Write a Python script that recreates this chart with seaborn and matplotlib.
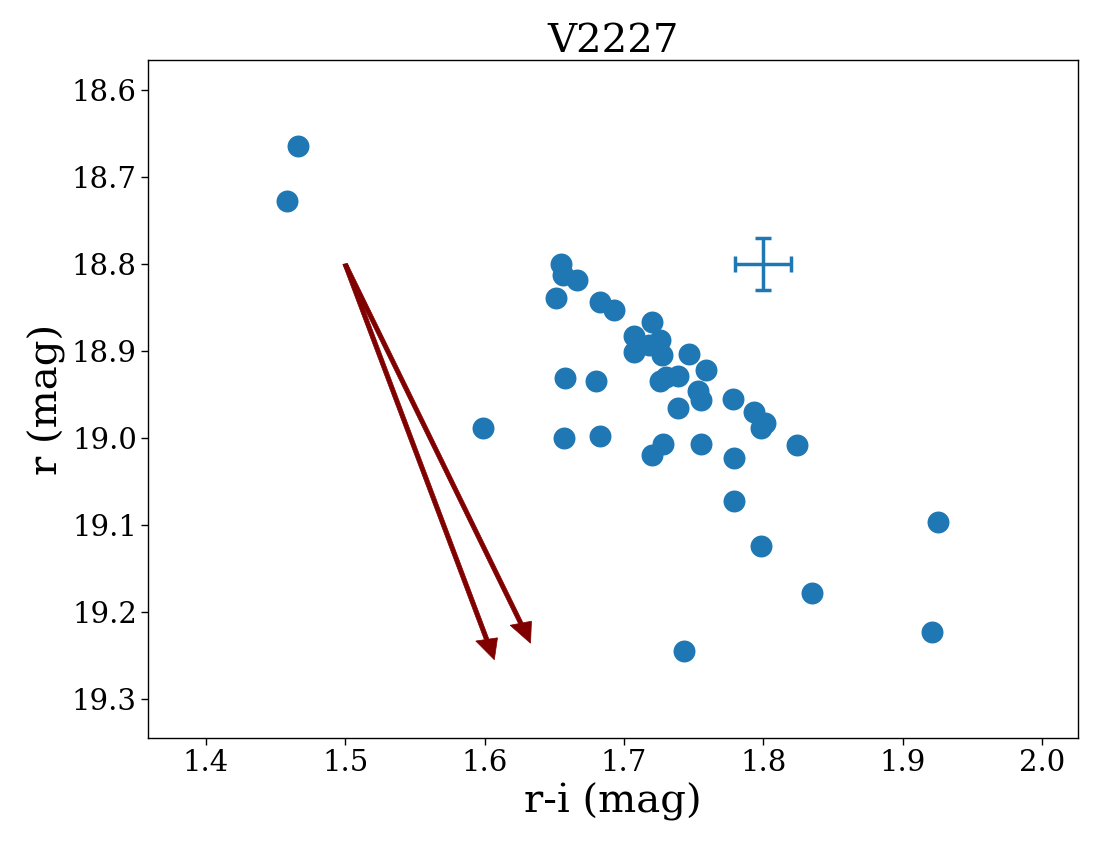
import numpy as np
import pandas as pd
import matplotlib
matplotlib.use('Agg')
import matplotlib.pyplot as plt
import seaborn as sns

# colour-magnitude points (r-i, r)
r_i = [1.466, 1.458, 1.655, 1.656, 1.666, 1.651, 1.683, 1.693, 1.720, 1.707,
       1.707, 1.726, 1.727, 1.747, 1.759, 1.726, 1.739, 1.753, 1.755, 1.739,
       1.778, 1.793, 1.801, 1.798, 1.658, 1.680, 1.599, 1.657, 1.683, 1.728,
       1.720, 1.755, 1.779, 1.824, 1.779, 1.798, 1.835, 1.743, 1.925, 1.921,
       1.718, 1.730]
r_mag = [18.664, 18.728, 18.800, 18.813, 18.818, 18.839, 18.844, 18.853, 18.867, 18.883,
         18.901, 18.887, 18.905, 18.903, 18.922, 18.934, 18.929, 18.946, 18.956, 18.966,
         18.955, 18.970, 18.983, 18.989, 18.931, 18.934, 18.989, 19.000, 18.998, 19.007,
         19.020, 19.007, 19.023, 19.008, 19.072, 19.124, 19.178, 19.245, 19.097, 19.223,
         18.893, 18.930]

# typical error
err_x, err_y = 1.8, 18.8
err_dx, err_dy = 0.02, 0.03

# reddening vectors
arrow_start = (1.5, 18.8)
arrow_ends = [(1.607, 19.255), (1.633, 19.236)]

df = pd.DataFrame({'r-i': r_i, 'r': r_mag})

sns.set_style('ticks')
plt.rcParams['font.family'] = ['DejaVu Serif']
plt.rcParams['text.color'] = 'black'
plt.rcParams['axes.labelcolor'] = 'black'

fig = plt.figure(figsize=(11.01, 8.48), dpi=100)
ax = fig.add_axes([0.1344, 0.1297, 0.9791 - 0.1344, 0.9292 - 0.1297])

sns.scatterplot(data=df, x='r-i', y='r', ax=ax, color='#1f77b4', s=250, linewidth=0)

ax.errorbar(err_x, err_y, xerr=err_dx, yerr=err_dy, color='#1f77b4',
            capsize=6, elinewidth=2.5, capthick=2.5, fmt='none')

for end in arrow_ends:
    ax.arrow(arrow_start[0], arrow_start[1],
             end[0] - arrow_start[0], end[1] - arrow_start[1],
             width=0.0033, head_width=0.016, head_length=0.024,
             length_includes_head=True, color='#800000', lw=0.5)

ax.set_xlim(1.3585, 2.0258)
ax.set_ylim(19.345, 18.5655)
ax.set_xticks([1.4, 1.5, 1.6, 1.7, 1.8, 1.9, 2.0])
ax.set_yticks([18.6, 18.7, 18.8, 18.9, 19.0, 19.1, 19.2, 19.3])
ax.tick_params(labelsize=21, length=5, width=1, pad=3, colors='black')
for sp in ax.spines.values():
    sp.set_color('black')
    sp.set_linewidth(1)

ax.set_xlabel('r-i (mag)', fontsize=29, color='black')
ax.set_ylabel('r (mag)', fontsize=29, color='black')
ax.set_title('V2227', fontsize=29, color='black')

fig.savefig('out.png', dpi=100)
